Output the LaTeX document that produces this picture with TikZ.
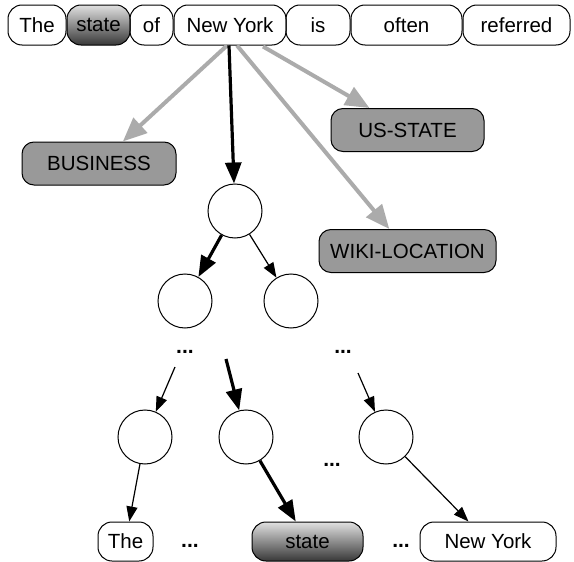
\documentclass[tikz,border=0pt]{standalone}
\usepackage{fontspec}
\setmainfont{Liberation Sans}
\usetikzlibrary{arrows.meta}
\begin{document}
\begin{tikzpicture}[x=1pt,y=-1pt,
  txt/.style={font=\fontsize{20.5}{24}\selectfont},
  word/.style={txt,draw,line width=1pt,rounded corners=14pt,minimum height=40pt,inner sep=0pt},
  hl/.style={top color=black!12,bottom color=black!78},
  tag/.style={txt,draw,line width=1pt,rounded corners=12pt,fill=black!40,minimum height=43pt,inner sep=0pt},
  circ/.style={draw,circle,line width=1pt,minimum size=54pt,inner sep=0pt},
  dots/.style={font=\fontsize{21}{24}\selectfont\bfseries,inner sep=0pt},
  grayarr/.style={draw=black!33,line width=4pt,-{Triangle[length=24pt,width=20pt]}},
  thickarr/.style={draw=black,line width=3.2pt,-{Triangle[length=21pt,width=16pt]}},
  thinarr/.style={draw=black,line width=1.2pt,-{Triangle[length=15pt,width=11pt]}}
]
\useasboundingbox (0,0) rectangle (574,562);
% top sentence
\node[word,minimum width=58pt] (w1) at (37,25) {The};
\node[word,hl,minimum width=63pt] (w2) at (98.5,25) {state};
\node[word,minimum width=43pt] (w3) at (151.5,25) {of};
\node[word,minimum width=112pt] (ny) at (230,25) {New York};
\node[word,minimum width=64pt] (w5) at (318,25) {is};
\node[word,minimum width=111pt] (w6) at (406.5,25) {often};
\node[word,minimum width=107pt] (w7) at (516.5,25) {referred};
% tags
\node[tag,minimum width=154pt] (bus) at (99,163.5) {BUSINESS};
\node[tag,minimum width=153pt] (us) at (407.5,130) {US-STATE};
\node[tag,minimum width=177pt] (wiki) at (407.5,251) {WIKI-LOCATION};
% tree
\node[circ] (c1) at (235,211) {};
\node[circ] (c2) at (185,301) {};
\node[circ] (c3) at (291,301) {};
\node[circ] (c4) at (145,437) {};
\node[circ] (c5) at (246,437) {};
\node[circ] (c6) at (386,437) {};
\node[dots] (d1) at (185,352) {...};
\node[dots] (d2) at (343,352) {...};
\node[dots] (d3) at (332,465) {...};
\node[dots] (d4) at (190,546) {...};
\node[dots] (d5) at (401,546) {...};
% bottom words
\node[word,minimum width=55pt,minimum height=39pt] (b1) at (125.5,541.5) {The};
\node[word,hl,minimum width=111pt,minimum height=39pt] (b2) at (307.5,541.5) {state};
\node[word,minimum width=136pt,minimum height=39pt] (b3) at (488,541.5) {New York};
% free ends
\coordinate (s1) at (175,367);
\coordinate (s2) at (226,359);
\coordinate (s3) at (358,373);
% gray arrows
\draw[grayarr] ([xshift=-3pt]ny.south) -- (bus);
\draw[grayarr] ([xshift=7pt]ny.south) -- (wiki);
\draw[grayarr] ([xshift=33pt,yshift=-1pt]ny.south) -- (us);
% black arrows
\draw[thickarr] ([xshift=-1pt]ny.south) -- (c1);
\draw[thickarr] (c1) -- (c2);
\draw[thinarr] (c1) -- (c3);
\draw[thinarr] (s1) -- (c4);
\draw[thickarr] (s2) -- (c5);
\draw[thinarr] (s3) -- (c6);
\draw[thinarr] (c4) -- (b1);
\draw[thickarr] (c5) -- (b2);
\draw[thinarr] (c6) -- (b3);
\end{tikzpicture}
\end{document}
